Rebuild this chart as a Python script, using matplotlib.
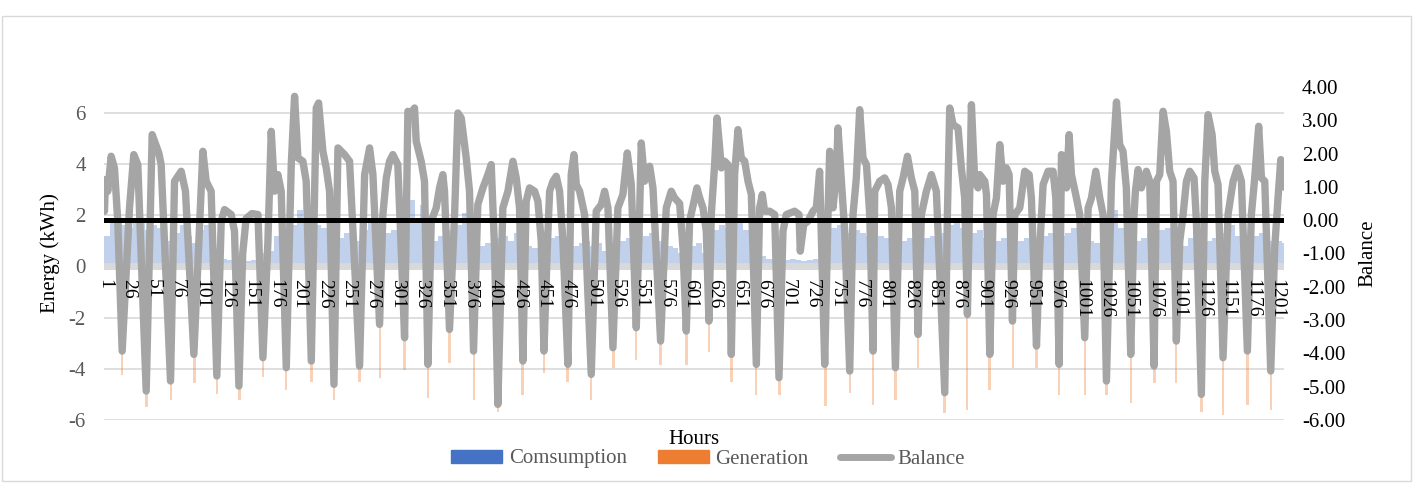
import matplotlib
matplotlib.use('Agg')
import matplotlib.pyplot as plt
import matplotlib.patches as mpatches
from matplotlib.lines import Line2D
from matplotlib.ticker import FormatStrFormatter

plt.rcParams['font.family'] = ['Liberation Serif', 'DejaVu Serif']
plt.rcParams['axes.unicode_minus'] = False

n_hours = 1208
tick_hours = list(range(1, 1202, 25))

# consumption (kWh), one value per 6-hour block starting at hour 1 (4 blocks = 1 day)
consumption_6h = [
    1.2, 1.7, 1.8, 1.6,   1.5, 1.8, 1.7, 1.4,   1.6, 1.5, 1.2, 1.0,   1.3, 1.6, 1.2, 0.9,
    1.4, 1.6, 1.3, 0.7,   0.3, 0.25, 0.2, 0.25, 0.2, 0.25, 0.3, 0.5,  0.6, 1.2, 1.4, 1.3,
    1.6, 2.2, 1.7, 1.5,   1.6, 1.5, 1.0, 0.9,   1.1, 1.3, 1.2, 1.0,   1.4, 1.7, 1.4, 1.1,
    1.3, 1.4, 1.5, 1.7,   2.6, 1.8, 2.4, 1.1,   1.0, 1.2, 1.4, 1.3,   1.6, 2.1, 1.2, 0.8,
    0.8, 0.9, 1.0, 1.1,   1.2, 1.0, 1.3, 1.0,   0.8, 0.7, 0.6, 0.8,   1.1, 1.2, 0.9, 0.8,
    0.8, 0.9, 1.0, 0.8,   0.9, 0.6, 0.5, 0.7,   1.0, 1.1, 1.5, 1.3,   1.2, 1.3, 1.0, 0.8,
    0.8, 0.7, 0.5, 0.5,   0.8, 0.9, 0.5, 0.4,   1.4, 1.6, 1.5, 1.7,   1.8, 1.4, 1.0, 0.9,
    0.4, 0.3, 0.25, 0.25, 0.25, 0.3, 0.25, 0.2, 0.25, 0.3, 0.6, 1.2,  1.5, 1.6, 1.4, 1.3,
    1.4, 1.3, 1.2, 1.1,   1.2, 1.1, 1.0, 0.9,   1.0, 1.1, 1.0, 1.1,   1.1, 1.2, 1.0, 1.3,
    1.6, 1.9, 1.5, 1.4,   1.3, 1.4, 1.1, 1.0,   1.0, 1.1, 0.9, 1.0,   1.0, 1.1, 1.0, 1.1,
    1.2, 1.3, 1.4, 1.2,   1.3, 1.5, 2.0, 1.1,   1.0, 0.9, 1.1, 1.4,   2.2, 1.5, 1.3, 1.0,
    1.0, 1.1, 1.3, 1.2,   1.4, 1.5, 1.0, 0.8,   0.8, 1.1, 1.2, 1.0,   1.0, 1.1, 1.0, 1.3,
    1.6, 1.2, 1.1, 1.1,   1.2, 1.3, 1.1, 1.0,   1.0, 0.9,
]
block_hours = 6

# generation (kWh) at the daily peak hours
gen_hours = [19, 44, 69, 93, 116, 139, 163, 187, 213, 236, 262, 283,
             308, 332, 354, 379, 404, 429, 451, 475, 499, 522, 545, 570,
             597, 620, 643, 668, 692, 739, 764, 788, 811, 834, 861, 884,
             907, 931, 955, 978, 1005, 1027, 1052, 1076, 1098, 1124, 1146, 1171, 1195]
gen_values = [-4.24, -5.48, -5.2, -4.57, -5.0, -5.2, -4.31, -4.83, -4.5, -5.22, -4.5, -4.37,
              -4.05, -5.15, -3.79, -5.22, -5.67, -5.02, -4.18, -4.5, -5.22, -3.98, -3.66, -3.85,
              -3.85, -3.33, -4.5, -5.02, -5.02, -5.45, -4.96, -5.41, -5.22, -3.98, -5.74, -5.61,
              -4.83, -3.98, -3.98, -5.02, -5.02, -5.02, -5.35, -4.57, -4.57, -5.67, -5.8, -5.41, -5.61]

# balance (secondary axis), read at the turning points of the line
balance_hours = [
    1.0, 2.0, 4.4, 7.8, 11.2, 14.6, 19.1, 26.6, 31.0, 35.1, 43.7, 49.8, 56.6, 59.0, 68.6,
    72.7, 79.5, 83.9, 92.5, 101.7, 105.1, 110.2, 116.0, 120.5, 123.9, 130.7, 134.1, 138.6, 142.5,
    146.0, 152.0, 158.1, 163.2, 168.3, 171.7, 175.1, 178.5, 181.9, 187.1, 192.2, 195.6, 199.0,
    204.1, 207.5, 212.7, 217.8, 220.2, 224.6, 228.0, 231.4, 235.9, 240.0, 246.8, 251.9, 262.1,
    267.3, 272.4, 275.8, 282.6, 286.0, 289.5,
    292.8, 296.2, 301.3, 304.7, 308.2, 311.6, 315.0, 318.4, 320.1, 325.2, 328.6, 332.1, 335.5,
    340.6, 344.0, 347.4, 349.1, 354.2, 359.4, 362.8, 366.2, 371.3, 374.7, 378.8, 383.2, 388.4,
    393.5, 396.9, 400.3, 403.7, 408.8, 414.0, 419.1, 422.5, 425.9, 429.3, 432.7, 436.1,
    441.3, 444.7, 448.1, 450.9, 454.3, 456.7, 460.1, 463.5, 466.9, 470.3, 475.4, 478.8, 481.6,
    484.0, 487.4, 492.5, 499.3, 504.4, 509.6, 513.0, 516.4, 521.5, 526.6, 531.7, 536.2, 540.3,
    545.4, 548.8, 550.5, 553.9, 559.1, 562.5, 570.3, 576.1, 581.2, 584.6, 589.8,
    593.2, 596.6, 600.0, 605.2, 607.5, 610.3, 613.7, 617.1, 619.8, 622.2, 625.6, 628.0, 630.8,
    632.5, 635.9, 639.3, 642.7, 646.1, 649.5, 652.9, 656.4, 659.8, 663.2, 668.3, 671.7, 674.4,
    676.8, 681.9, 687.1, 691.5, 695.6, 699.0, 707.5, 712.0, 713.3, 716.8, 721.2, 726.3, 729.7,
    733.1, 738.3,
    741.7, 743.4, 746.8, 750.2, 751.9, 755.4, 758.8, 763.9, 767.3, 770.7, 774.1, 777.5, 781.0,
    784.4, 787.8, 789.5, 794.6, 799.7, 803.1, 806.6, 810.7, 815.1, 818.5, 823.0, 827.0, 830.5,
    833.9, 837.3, 842.4, 847.5, 852.6, 861.2, 863.9, 866.3, 869.7, 874.8, 878.2, 881.6, 884.4, 888.5,
    891.9, 895.3, 897.0, 902.2, 903.9, 907.3, 910.7, 914.1, 917.5, 920.9, 924.3, 927.1, 930.5,
    932.9, 938.0, 943.1, 947.6, 949.9, 955.1, 958.5, 961.9, 967.0, 972.1, 974.9, 978.3, 980.7,
    985.8, 988.5, 990.9, 996.0, 999.4, 1004.5, 1008.0, 1011.4, 1015.8, 1019.9, 1023.3, 1026.7,
    1031.9, 1037.0,
    1040.3, 1043.7, 1047.1, 1051.6, 1055.0, 1056.4, 1059.1, 1062.5, 1067.6, 1071.0, 1072.7,
    1075.5, 1077.9, 1081.3, 1084.7, 1088.1, 1091.5, 1094.9, 1098.3, 1101.8, 1105.2, 1108.6,
    1112.0, 1116.4, 1118.8, 1123.9, 1127.4, 1130.8, 1134.9, 1137.6, 1141.0, 1146.1, 1151.2,
    1156.4, 1160.8, 1164.9, 1171.0, 1175.1, 1178.5, 1182.6, 1185.4, 1188.8, 1194.9, 1199.0,
    1202.4, 1205.2, 1208.0,
]
balance_values = [
    0.27, 1.22, 0.87, 1.92, 1.57, -0.03, -3.93, 0.37, 1.97, 1.67, -5.13, 2.57, 2.02, 1.67, -4.83,
    1.17, 1.47, 0.87, -4.03, 2.07, 1.17, 0.87, -4.68, -0.03, 0.32, 0.17, -0.33, -4.98, -1.0,
    0.05, 0.2, 0.17, -4.13, -0.63, 2.67, 0.87, 1.37, 0.87, -4.43, 1.67, 3.72, 1.87,
    1.77, 1.17, -4.23, 3.37, 3.52, 2.07, 1.57, 0.87, -4.93, 2.17, 1.97, 1.77, -4.38,
    1.37, 2.17, 1.37, -3.13, 0.17, 1.27,
    1.77, 1.97, 1.67, -0.83, -3.53, 3.27, 3.22, 3.37, 2.37, 1.77, 1.17, -4.33, -0.03,
    0.37, 0.97, 1.37, 0.87, -3.28, 0.17, 3.22, 3.07, 1.87, 0.87, -3.93, 0.47, 0.97,
    1.37, 1.67, -0.83, -5.53, 0.37, 0.87, 1.77, 1.27, 0.37, -4.23, 0.57, 0.97,
    0.87, 0.57, -0.63, -3.93, -0.83, 0.87, 1.17, 1.32, 0.87, -0.63, -4.33, 1.37, 1.97,
    1.07, 0.87, 0.17, -4.63, 0.27, 0.47, 0.87, 0.37, -3.83, 0.37, 0.77, 2.02, 1.07,
    -3.23, 0.17, 2.32, 1.17, 1.62, 0.97, -3.63, 0.37, 0.87, 0.67, 0.5,
    -0.83, -3.33, -0.03, 0.67, 0.97, 0.67, 0.37, -0.33, -3.03, 0.17, 1.67, 3.07, 2.17,
    1.57, 1.77, 1.67, -4.03, 1.37, 2.72, 1.87, 1.77, 1.17, 0.77, -4.33, 0.37, 0.77,
    0.27, 0.27, 0.17, -4.73, -0.33, 0.17, 0.27, 0.17, -0.93, -0.13, -0.03, 0.27, 0.37,
    1.47, -4.33,
    0.17, 2.07, 0.37, 1.37, 2.77, 1.17, -0.33, -4.53, 0.17, 1.27, 3.32, 1.87, 1.67,
    0.17, -3.93, 0.87, 1.17, 1.27, 1.07, 0.37, -4.43, 0.87, 1.27, 1.92, 1.27, 0.87,
    -3.43, 0.17, 0.87, 1.37, 0.87, -5.18, 0.17, 3.37, 2.87, 2.77, 1.57, 0.67, -2.83, 3.47,
    1.17, 0.97, 1.37, 1.17, 0.77, -4.03, 0.17, 0.67, 2.27, 1.17, 1.57, 1.37, -3.03,
    0.17, 0.37, 1.47, 1.37, 0.67, -3.78, -0.83, 1.07, 1.47, 1.47, 0.67, -4.33, 1.97,
    0.97, 2.57, 1.37, 0.67, 0.17, -3.53, 0.37, 0.67, 1.47, 0.67, 0.17, -4.83,
    1.17, 3.55,
    2.27, 2.07, 0.97, -4.03, 0.17, 0.87, 1.52, 0.97, 1.47, 1.17, -0.83,
    -4.38, 1.17, 1.37, 3.27, 2.67, 1.47, 1.17, -3.63, -0.63, 0.17, 1.17,
    1.47, 1.27, -0.03, -5.23, 1.17, 3.17, 2.57, 1.47, 1.07, -4.13, 0.17,
    1.17, 1.57, 1.17, -3.93, 0.17, 1.27, 2.82, 1.27, 1.17, -4.53, -0.83,
    0.67, 1.82, 1.0,
]

fig = plt.figure(figsize=(14.17, 4.84), dpi=100)
ax = fig.add_axes([104 / 1417, 1 - 420 / 484, 1180 / 1417, 333 / 484])
ax2 = ax.twinx()

# bars on the primary axis
block_centers = [block_hours * k + block_hours / 2 + 0.5 for k in range(len(consumption_6h))]
ax.bar(block_centers, consumption_6h, width=block_hours, color='#4472C4', alpha=0.33,
       linewidth=0, zorder=1)
ax.bar(gen_hours, gen_values, width=2.5, color='#ED7D31', alpha=0.35, linewidth=0, zorder=1)
ax.axhline(0, color='#D9D9D9', linewidth=5, zorder=1.2)

ax.set_xlim(0.5, n_hours + 0.5)
ax.set_ylim(-6, 7)
ax.set_yticks([-6, -4, -2, 0, 2, 4, 6])
ax.set_axisbelow(True)
ax.yaxis.grid(True, color='#D9D9D9', linewidth=1.2)
ax.tick_params(axis='y', length=0, pad=13, labelsize=15, labelcolor='#595959')
ax.tick_params(axis='x', length=0, labelbottom=False)
for s in ax.spines.values():
    s.set_visible(False)
ax.set_ylabel('Energy (kWh)', fontsize=15)
ax.yaxis.set_label_coords(-0.0373, 0.5)

# balance on the secondary axis
ax2.plot(balance_hours, balance_values, color='#A5A5A5', linewidth=5.3,
         solid_joinstyle='round', solid_capstyle='round', zorder=2)
ax2.axhline(0, color='black', linewidth=3.6, zorder=2.2)
ax2.set_ylim(-6, 4)
ax2.set_yticks(range(-6, 5))
ax2.yaxis.set_major_formatter(FormatStrFormatter('%.2f'))
ax2.tick_params(axis='y', length=0, pad=13, labelsize=15, labelcolor='black')
ax2.set_ylabel('Balance', fontsize=15)
ax2.yaxis.set_label_coords(1.0627, 0.5)

# hour labels sit on the category axis (left 0) and above the balance line
ax2.xaxis.set_visible(True)
ax2.set_axisbelow(False)
ax2.spines['bottom'].set_position(('axes', 6 / 13))
for s in ax2.spines.values():
    s.set_color('none')
ax2.set_xticks(tick_hours)
ax2.set_xticklabels([str(h) for h in tick_hours], rotation=-90, fontsize=14)
ax2.tick_params(axis='x', length=0, pad=9, labelcolor='black')
ax2.set_xlim(0.5, n_hours + 0.5)

fig.text(694 / 1417, 1 - 439 / 484, 'Hours', ha='center', va='center', fontsize=15)

handles = [mpatches.Patch(color='#4472C4', label='Comsumption'),
           mpatches.Patch(color='#ED7D31', label='Generation'),
           Line2D([0], [0], color='#A5A5A5', linewidth=5, solid_capstyle='round', label='Balance')]
fig.legend(handles=handles, loc='center', bbox_to_anchor=(708 / 1417, 1 - 459 / 484), ncol=3,
           frameon=False, fontsize=15, handlelength=2.45, handleheight=0.6, handletextpad=0.3,
           columnspacing=1.5, labelcolor='#595959', borderaxespad=0, borderpad=0)

fig.add_artist(mpatches.Rectangle((2 / 1417, 3 / 484), 1409 / 1417, 465 / 484,
                                  transform=fig.transFigure, fill=False,
                                  edgecolor='#D9D9D9', linewidth=1))

fig.savefig('out.png', dpi=100)
